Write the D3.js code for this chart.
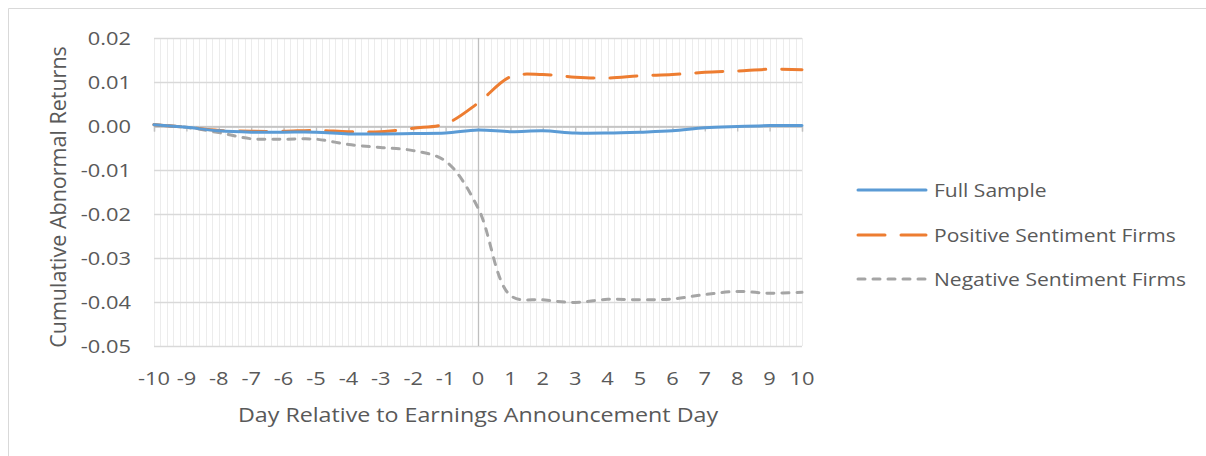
<!DOCTYPE html>
<html>
<head>
<meta charset="utf-8">
<script src="https://cdn.jsdelivr.net/npm/d3@7"></script>
<style>
  body { margin: 0; background: #fff; }
  text { font-family: "Open Sans", sans-serif; fill: #595959; }
</style>
</head>
<body>
<script>
// days relative to the announcement
let days = [-10,-9,-8,-7,-6,-5,-4,-3,-2,-1,0,1,2,3,4,5,6,7,8,9,10];

let fullSample = [0.0003,-0.0003,-0.0011,-0.0014,-0.0014,-0.0014,-0.0018,-0.0018,-0.0017,-0.0016,
  -0.0009,-0.0013,-0.0011,-0.0016,-0.0016,-0.0014,-0.0011,-0.0004,-0.0001,0.0001,0.0001];
let positive = [0.0003,-0.0003,-0.0010,-0.0012,-0.0012,-0.0010,-0.0013,-0.0013,-0.0005,0.0005,
  0.0052,0.0112,0.0117,0.0111,0.0109,0.0114,0.0117,0.0122,0.0125,0.0129,0.0128];
let negative = [0.0003,-0.0003,-0.0015,-0.0029,-0.0030,-0.0030,-0.0042,-0.0049,-0.0056,-0.0080,
  -0.0186,-0.0385,-0.0395,-0.0401,-0.0394,-0.0395,-0.0393,-0.0383,-0.0376,-0.0380,-0.0378];

let seriesNames = ["Full Sample","Positive Sentiment Firms","Negative Sentiment Firms"];
let yTicks = [0.02,0.01,0.00,-0.01,-0.02,-0.03,-0.04,-0.05];

let svgWidth = 1206, svgHeight = 456;
let plotLeft = 154, plotRight = 802, plotTop = 38, plotBottom = 346;
let stretch = 1.15; // the original text is a bit wide for its height

const svg = d3.select("body").append("svg")
  .attr("width", svgWidth)
  .attr("height", svgHeight);

// outer chart border
svg.append("path")
  .attr("d", "M8.5," + svgHeight + "V8.5H" + svgWidth)
  .attr("fill", "none")
  .attr("stroke", "#d9d9d9");

const x = d3.scaleLinear().domain([-10, 10]).range([plotLeft, plotRight]);
const y = d3.scaleLinear().domain([-0.05, 0.02]).range([plotBottom, plotTop]);

// minor vertical gridlines
let minor = d3.range(-10, 10.001, 0.2);
svg.selectAll(".vgrid")
  .data(minor)
  .enter()
  .append("line")
  .attr("x1", function(d) { return Math.round(x(d)) + 0.5; })
  .attr("x2", function(d) { return Math.round(x(d)) + 0.5; })
  .attr("y1", plotTop)
  .attr("y2", plotBottom)
  .attr("stroke", "#ececec")
  .attr("stroke-width", 1);

// horizontal gridlines
svg.selectAll(".hgrid")
  .data(yTicks)
  .enter()
  .append("line")
  .attr("x1", plotLeft)
  .attr("x2", plotRight)
  .attr("y1", function(d) { return Math.round(y(d)) + 0.5; })
  .attr("y2", function(d) { return Math.round(y(d)) + 0.5; })
  .attr("stroke", "#d9d9d9")
  .attr("stroke-width", 1.3);

// y axis sits at day 0, x axis at 0.00
svg.append("line")
  .attr("x1", Math.round(x(0)) + 0.5).attr("x2", Math.round(x(0)) + 0.5)
  .attr("y1", plotTop).attr("y2", plotBottom)
  .attr("stroke", "#bfbfbf").attr("stroke-width", 1.3);

const xAxis = svg.append("g")
  .attr("transform", "translate(0," + (Math.round(y(0)) + 0.5) + ")")
  .call(d3.axisBottom(x).tickValues(days).tickSize(5).tickFormat(""));
xAxis.select(".domain").attr("stroke", "#bfbfbf").attr("stroke-width", 1.3);
xAxis.selectAll(".tick line").attr("stroke", "#bfbfbf").attr("stroke-width", 1.3);

// tick labels
svg.selectAll(".xlab")
  .data(days)
  .enter()
  .append("text")
  .attr("transform", function(d) { return "translate(" + x(d) + ",385) scale(" + stretch + ",1)"; })
  .attr("text-anchor", "middle")
  .attr("font-size", "19px")
  .text(function(d) { return d; });

svg.selectAll(".ylab")
  .data(yTicks)
  .enter()
  .append("text")
  .attr("transform", function(d) { return "translate(131," + (y(d) + 7) + ") scale(" + stretch + ",1)"; })
  .attr("text-anchor", "end")
  .attr("font-size", "19px")
  .text(function(d) { return d3.format(".2f")(d).replace("−", "-"); });

svg.append("text")
  .attr("transform", "translate(478,422) scale(" + stretch + ",1)")
  .attr("text-anchor", "middle")
  .attr("font-size", "20.2px")
  .text("Day Relative to Earnings Announcement Day");

svg.append("text")
  .attr("transform", "translate(66,197) rotate(-90)")
  .attr("text-anchor", "middle")
  .attr("font-size", "21.5px")
  .text("Cumulative Abnormal Returns");

// series
let series = [
  { name: seriesNames[0], values: fullSample, color: "#5b9bd5", dash: null },
  { name: seriesNames[1], values: positive, color: "#ed7d31", dash: "27,16" },
  { name: seriesNames[2], values: negative, color: "#a5a5a5", dash: "7,8" }
];

const line = d3.line()
  .x(function(d, i) { return x(days[i]); })
  .y(function(d) { return y(d); })
  .curve(d3.curveCatmullRom.alpha(0.5));

svg.selectAll(".series")
  .data(series.slice().reverse())
  .enter()
  .append("path")
  .attr("d", function(d) { return line(d.values); })
  .attr("fill", "none")
  .attr("stroke", function(d) { return d.color; })
  .attr("stroke-width", 3)
  .attr("stroke-linecap", "round")
  .attr("stroke-dasharray", function(d) { return d.dash; });

// legend
let legendY = [190, 235, 279];
const legend = svg.selectAll(".legend")
  .data(series)
  .enter()
  .append("g")
  .attr("transform", function(d, i) { return "translate(0," + legendY[i] + ")"; });

legend.append("line")
  .attr("x1", 858).attr("x2", 926)
  .attr("y1", 0).attr("y2", 0)
  .attr("stroke", function(d) { return d.color; })
  .attr("stroke-width", 3)
  .attr("stroke-linecap", "round")
  .attr("stroke-dasharray", function(d) { return d.dash; });

legend.append("text")
  .attr("transform", "translate(934,7) scale(" + stretch + ",1)")
  .attr("font-size", "18.3px")
  .text(function(d) { return d.name; });
</script>
</body>
</html>
